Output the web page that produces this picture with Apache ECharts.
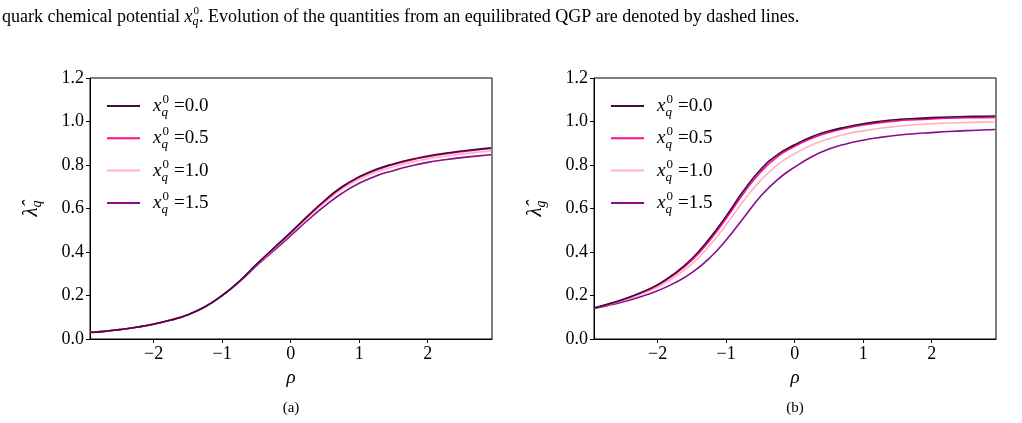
<!DOCTYPE html>
<html>
<head>
<meta charset="utf-8">
<script src="https://cdn.jsdelivr.net/npm/echarts@6/dist/echarts.min.js"></script>
<style>
html,body{margin:0;padding:0;background:#fff;}
#chart{width:1022px;height:423px;}
</style>
</head>
<body>
<div id="chart"></div>
<script>
// ---- data ----
const rho = [-2.93, -2.75, -2.5, -2.25, -2, -1.75, -1.5, -1.25, -1, -0.75, -0.5, -0.25, 0,
             0.25, 0.5, 0.75, 1, 1.25, 1.5, 1.75, 2, 2.25, 2.5, 2.75, 2.93];
const seriesNames = ['0.0', '0.5', '1.0', '1.5'];
// panel (a): lambda_q
const lamQ_00 = [0.030, 0.034, 0.043, 0.054, 0.068, 0.087, 0.112, 0.148, 0.200, 0.265, 0.343, 0.417, 0.490,
                 0.566, 0.638, 0.700, 0.746, 0.780, 0.805, 0.825, 0.841, 0.854, 0.864, 0.873, 0.879];
const lamQ_05 = [0.030, 0.034, 0.043, 0.054, 0.068, 0.087, 0.112, 0.148, 0.200, 0.265, 0.342, 0.416, 0.488,
                 0.564, 0.635, 0.697, 0.743, 0.777, 0.802, 0.822, 0.838, 0.851, 0.861, 0.870, 0.876];
const lamQ_10 = [0.030, 0.034, 0.043, 0.054, 0.068, 0.087, 0.112, 0.148, 0.199, 0.264, 0.340, 0.412, 0.484,
                 0.558, 0.628, 0.689, 0.734, 0.768, 0.792, 0.812, 0.828, 0.840, 0.851, 0.859, 0.865];
const lamQ_15 = [0.031, 0.035, 0.043, 0.054, 0.069, 0.087, 0.112, 0.148, 0.199, 0.262, 0.336, 0.405, 0.475,
                 0.546, 0.612, 0.670, 0.716, 0.750, 0.774, 0.795, 0.812, 0.824, 0.834, 0.842, 0.847];
// panel (b): lambda_g
const lamG_00 = [0.142, 0.158, 0.183, 0.213, 0.250, 0.302, 0.370, 0.460, 0.565, 0.680, 0.778, 0.848, 0.893,
                 0.930, 0.956, 0.975, 0.990, 1.001, 1.009, 1.014, 1.018, 1.021, 1.023, 1.024, 1.025];
const lamG_05 = [0.142, 0.157, 0.182, 0.211, 0.247, 0.297, 0.362, 0.450, 0.554, 0.668, 0.767, 0.839, 0.886,
                 0.923, 0.950, 0.969, 0.984, 0.995, 1.003, 1.008, 1.012, 1.015, 1.017, 1.018, 1.019];
const lamG_10 = [0.141, 0.155, 0.178, 0.205, 0.239, 0.285, 0.345, 0.427, 0.525, 0.633, 0.728, 0.801, 0.852,
                 0.892, 0.921, 0.942, 0.957, 0.969, 0.978, 0.985, 0.990, 0.993, 0.995, 0.997, 0.998];
const lamG_15 = [0.140, 0.152, 0.171, 0.194, 0.222, 0.258, 0.305, 0.370, 0.455, 0.555, 0.655, 0.733, 0.790,
                 0.838, 0.873, 0.897, 0.914, 0.927, 0.937, 0.944, 0.949, 0.954, 0.958, 0.961, 0.963];
const xTicks = [-2, -1, 0, 1, 2];

const colors = ['#3f0a3f', '#ff0a8c', '#ffb1c1', '#8a0c8a'];
const serif = 'Liberation Serif';

function pairs(ys) { return rho.map((r, i) => [r, ys[i]]); }

const chart = echarts.init(document.getElementById('chart'), null, {renderer: 'canvas'});

const legRich = {
  x: {fontFamily: serif, fontStyle: 'italic', fontSize: 19, lineHeight: 26, verticalAlign: 'middle', color: '#000', padding: [0, 0, 0, 8]},
  q: {fontFamily: serif, fontStyle: 'italic', fontSize: 13, lineHeight: 13, verticalAlign: 'bottom', width: 1, color: '#000'},
  s: {fontFamily: serif, fontSize: 13, lineHeight: 13, verticalAlign: 'top', color: '#000'},
  n: {fontFamily: serif, fontSize: 19, lineHeight: 26, verticalAlign: 'middle', color: '#000', padding: [0, 0, 0, 5]}
};

function xAxisCfg(idx) {
  return {
    type: 'value', gridIndex: idx, min: -2.93, max: 2.94,
    name: 'ρ', nameLocation: 'middle', nameGap: 29,
    nameTextStyle: {fontFamily: serif, fontStyle: 'italic', fontSize: 19, color: '#000'},
    axisLine: {show: true, onZero: false, lineStyle: {color: '#000', width: 1}},
    axisTick: {show: true, length: 4, customValues: xTicks, lineStyle: {color: '#000'}},
    axisLabel: {customValues: xTicks, margin: 6, fontFamily: serif, fontSize: 18, color: '#000',
      formatter: v => v < 0 ? '\u2212' + Math.abs(v) : String(v)},
    splitLine: {show: false}
  };
}
function yAxisCfg(idx, sub) {
  return {
    type: 'value', gridIndex: idx, min: 0, max: 1.2, interval: 0.2,
    name: '{l|λ̂}{q|' + sub + '}', nameLocation: 'middle', nameGap: 46, nameRotate: 90,
    nameTextStyle: {rich: {
      l: {fontFamily: serif, fontStyle: 'italic', fontSize: 21, lineHeight: 26, verticalAlign: 'middle', color: '#000'},
      q: {fontFamily: serif, fontStyle: 'italic', fontSize: 14, lineHeight: 14, verticalAlign: 'bottom', color: '#000'}
    }},
    axisLine: {show: true, onZero: false, lineStyle: {color: '#000', width: 1}},
    axisTick: {show: true, length: 4, lineStyle: {color: '#000'}},
    axisLabel: {margin: 6, fontFamily: serif, fontSize: 18, color: '#000', formatter: v => v.toFixed(1)},
    splitLine: {show: false}
  };
}

const qData = [lamQ_00, lamQ_05, lamQ_10, lamQ_15];
const gData = [lamG_00, lamG_05, lamG_10, lamG_15];
const series = [];
[qData, gData].forEach((set, g) => {
  set.forEach((ys, i) => {
    series.push({
      type: 'line', name: seriesNames[i], xAxisIndex: g, yAxisIndex: g,
      data: pairs(ys), smooth: 0.5, showSymbol: false, symbol: 'none',
      lineStyle: {color: colors[i], width: 1.6}, itemStyle: {color: colors[i]},
      z: 10 - i, animation: false
    });
  });
});

function legendCfg(left) {
  return {
    left: left, top: 93, orient: 'vertical', padding: 0, itemGap: 6.3,
    icon: 'rect', itemWidth: 33, itemHeight: 2, selectedMode: false,
    data: seriesNames,
    formatter: name => '{x|x}{q|q}{s|0}{n|=' + name + '}',
    textStyle: {rich: legRich}
  };
}

const capRich = {
  t: {fontFamily: serif, fontSize: 18, fontWeight: 'normal', color: '#000', lineHeight: 22, verticalAlign: 'middle'},
  x: {fontFamily: serif, fontStyle: 'italic', fontWeight: 'normal', fontSize: 18, color: '#000', lineHeight: 22, verticalAlign: 'middle'},
  q: {fontFamily: serif, fontStyle: 'italic', fontWeight: 'normal', fontSize: 12, lineHeight: 12, verticalAlign: 'bottom', width: 1, color: '#000'},
  s: {fontFamily: serif, fontWeight: 'normal', fontSize: 11, lineHeight: 11, verticalAlign: 'top', color: '#000'}
};

chart.setOption({
  animation: false,
  backgroundColor: '#fff',
  color: colors,
  title: [
    {text: '{t|quark chemical potential }{x|x}{q|q}{s|0}{t|. Evolution of the quantities from an equilibrated QGP are denoted by dashed lines.}',
     left: 2, top: 6, padding: 0, textStyle: {fontWeight: 'normal', rich: capRich}},
    {text: '(a)', left: 291, top: 401, textAlign: 'center', padding: 0,
     textStyle: {fontFamily: serif, fontSize: 15, fontWeight: 'normal', color: '#000'}},
    {text: '(b)', left: 795, top: 401, textAlign: 'center', padding: 0,
     textStyle: {fontFamily: serif, fontSize: 15, fontWeight: 'normal', color: '#000'}}
  ],
  grid: [
    {left: 90, top: 78, width: 402, height: 261, show: true, borderColor: '#000', borderWidth: 1, containLabel: false},
    {left: 594, top: 78, width: 402, height: 261, show: true, borderColor: '#000', borderWidth: 1, containLabel: false}
  ],
  legend: [legendCfg(107), legendCfg(611)],
  xAxis: [xAxisCfg(0), xAxisCfg(1)],
  yAxis: [yAxisCfg(0, 'q'), yAxisCfg(1, 'g')],
  series: series
});
</script>
</body>
</html>
